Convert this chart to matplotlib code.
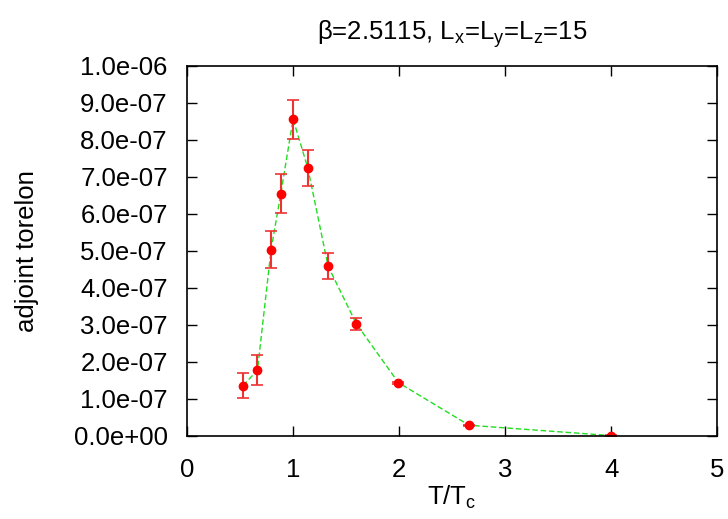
import matplotlib
matplotlib.use("Agg")
import matplotlib.pyplot as plt
from matplotlib.ticker import FormatStrFormatter, MultipleLocator

# T/Tc, adjoint torelon and its error
t_ratio = [0.528, 0.664, 0.792, 0.884, 1.0, 1.139, 1.33, 1.597, 1.994, 2.66, 4.0]
torelon = [1.36e-7, 1.78e-7, 5.03e-7, 6.55e-7, 8.56e-7, 7.24e-7, 4.59e-7,
           3.03e-7, 1.44e-7, 0.29e-7, 0.01e-7]
torelon_err = [0.33e-7, 0.40e-7, 0.50e-7, 0.53e-7, 0.53e-7, 0.49e-7, 0.35e-7,
               0.16e-7, 0.03e-7, 0.01e-7, 0.005e-7]

plt.rcParams["font.family"] = ["Liberation Sans", "DejaVu Sans"]
plt.rcParams["mathtext.fontset"] = "custom"
plt.rcParams["mathtext.rm"] = "Liberation Sans"
plt.rcParams["mathtext.it"] = "Liberation Sans"

fig = plt.figure(figsize=(7.28, 5.19), dpi=100)
ax = fig.add_axes([0.257, 0.160, 0.728, 0.713])

ax.plot(t_ratio, torelon, color="#22dd22", ls=(0, (4, 2)), lw=1)
ax.errorbar(t_ratio, torelon, yerr=torelon_err, fmt="o", color="red",
            ecolor="#ee3333", ms=6, capsize=4, elinewidth=1.5, capthick=1.2)

ax.set_xlim(0, 5)
ax.set_ylim(0, 1e-6)
ax.xaxis.set_major_locator(MultipleLocator(1))
ax.yaxis.set_major_locator(MultipleLocator(1e-7))
ax.yaxis.set_major_formatter(FormatStrFormatter("%.1e"))
ax.tick_params(direction="in", top=True, right=True, length=7, width=1,
               labelsize=18.5)
ax.tick_params(axis="y", pad=14)
ax.tick_params(axis="x", pad=16)
for s in ax.spines.values():
    s.set_linewidth(1.2)

ax.set_xlabel(r"T/T$_\mathrm{c}$", fontsize=18.5, labelpad=1)
ax.set_ylabel("adjoint torelon", fontsize=18.5, labelpad=25)
ax.set_title(r"β=2.5115, L$_\mathrm{x}$=L$_\mathrm{y}$=L$_\mathrm{z}$=15",
             fontsize=18.5, pad=19)

fig.savefig("out.png", dpi=100)
